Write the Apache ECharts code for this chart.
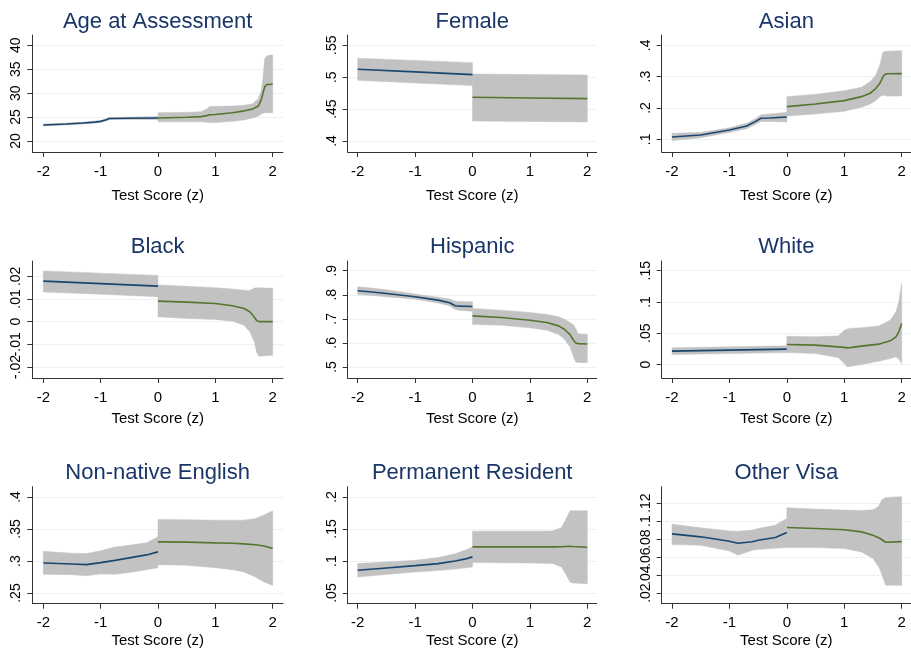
<!DOCTYPE html>
<html><head><meta charset="utf-8">
<script src="https://cdn.jsdelivr.net/npm/echarts@6/dist/echarts.min.js"></script>
<style>html,body{margin:0;padding:0;background:#fff}#c{width:911px;height:648px}</style>
</head><body><div id="c"></div>
<script>
// ---------- DATA ----------
const titles = ['Age at Assessment','Female','Asian','Black','Hispanic','White','Non-native English','Permanent Resident','Other Visa'];
const xTicks = [-2, -1, 0, 1, 2];
const xAxisTitle = 'Test Score (z)';

const yTicksAge = [20, 25, 30, 35, 40];
const yTicksFemale = [0.4, 0.45, 0.5, 0.55];
const yTicksAsian = [0.1, 0.2, 0.3, 0.4];
const yTicksBlack = [-0.02, -0.01, 0, 0.01, 0.02];
const yTicksHispanic = [0.5, 0.6, 0.7, 0.8, 0.9];
const yTicksWhite = [0, 0.05, 0.1, 0.15];
const yTicksNonNative = [0.25, 0.3, 0.35, 0.4];
const yTicksPerm = [0.05, 0.1, 0.15, 0.2];
const yTicksOther = [0.02, 0.04, 0.06, 0.08, 0.1, 0.12];

// rows: [x, estimate, lower CI, upper CI]; Left = below cutoff (blue), Right = above (green)
const ageLeft = [[-2,23.35,23.15,23.55],[-1.6,23.55,23.35,23.75],[-1.3,23.75,23.55,23.95],[-1.1,23.95,23.75,24.15],[-1.0,24.1,23.9,24.3],[-0.9,24.45,24.25,24.65],[-0.85,24.7,24.5,24.9],[-0.5,24.75,24.5,25.0],[0,24.8,24.5,25.1]];
const ageRight = [[0,24.8,24.0,25.9],[0.5,24.95,24.0,26.0],[0.75,25.1,24.0,26.1],[0.85,25.3,23.9,26.7],[0.9,25.5,23.8,27.2],[1.0,25.55,23.85,27.25],[1.3,25.9,24.1,27.3],[1.5,26.3,24.4,27.45],[1.65,26.7,24.8,27.8],[1.75,27.3,25.2,28.9],[1.8,28.6,25.6,30.5],[1.83,30.0,25.8,33.0],[1.86,31.3,25.9,37.2],[1.9,31.8,25.9,37.8],[2.0,31.85,25.9,38.0]];

const femaleLeft = [[-2,0.5124,0.4951,0.5296],[-1,0.5083,0.4910,0.5262],[0,0.504,0.4868,0.5228]];
const femaleRight = [[0,0.4685,0.4314,0.505],[1,0.4675,0.4306,0.5042],[2,0.4664,0.4298,0.5035]];

const asianLeft = [[-2,0.1075,0.096,0.119],[-1.5,0.1138,0.105,0.122],[-1,0.1298,0.122,0.137],[-0.7,0.1426,0.134,0.151],[-0.55,0.1564,0.147,0.166],[-0.45,0.167,0.157,0.178],[-0.3,0.168,0.157,0.181],[0,0.171,0.155,0.186]];
const asianRight = [[0,0.2043,0.1745,0.2362],[0.5,0.2128,0.181,0.2436],[1,0.2234,0.1894,0.2553],[1.3,0.2362,0.2021,0.266],[1.45,0.2468,0.2128,0.284],[1.55,0.2628,0.2234,0.305],[1.62,0.2787,0.2362,0.337],[1.67,0.298,0.2405,0.3766],[1.7,0.3065,0.2395,0.380],[1.75,0.309,0.238,0.381],[2,0.3096,0.238,0.383]];

const blackLeft = [[-2,0.0179,0.0131,0.0224],[-1,0.0168,0.0121,0.0214],[0,0.0157,0.011,0.0204]];
const blackRight = [[0,0.00908,0.00214,0.0162],[0.5,0.00863,0.0014,0.0156],[1,0.0080,0.00096,0.015],[1.3,0.0070,0.0002,0.0144],[1.5,0.00583,-0.00155,0.0139],[1.6,0.00435,-0.0045,0.0137],[1.65,0.0030,-0.0072,0.0144],[1.68,0.00214,-0.0089,0.0148],[1.72,0.0005,-0.0135,0.015],[1.76,0,-0.0153,0.015],[2,0,-0.0148,0.0147]];

const hispanicLeft = [[-2,0.8167,0.8014,0.8333],[-1.8,0.8125,0.798,0.829],[-1.5,0.8056,0.792,0.821],[-1,0.7917,0.7819,0.8028],[-0.6,0.7778,0.766,0.790],[-0.4,0.7667,0.754,0.782],[-0.3,0.7542,0.7389,0.7736],[-0.2,0.7528,0.735,0.772],[0,0.7514,0.7319,0.7708]];
const hispanicRight = [[0,0.7125,0.6764,0.7431],[0.5,0.7056,0.6736,0.7361],[1,0.6944,0.6625,0.7264],[1.3,0.6847,0.6528,0.7181],[1.5,0.6708,0.6347,0.7083],[1.6,0.6569,0.6153,0.6986],[1.7,0.6347,0.5833,0.6847],[1.76,0.6111,0.5417,0.675],[1.8,0.600,0.5208,0.660],[1.84,0.597,0.519,0.638],[2,0.5958,0.518,0.636]];

const whiteLeft = [[-2,0.0214,0.016,0.0267],[-1,0.023,0.0176,0.0283],[0,0.0246,0.0192,0.0299]];
const whiteRight = [[0,0.032,0.0192,0.0454],[0.5,0.031,0.0176,0.0443],[0.9,0.0283,0.0107,0.0459],[1.0,0.0275,0.0016,0.055],[1.05,0.0267,-0.0037,0.0567],[1.1,0.027,-0.003,0.0577],[1.3,0.0294,0,0.059],[1.6,0.0326,0.0053,0.0615],[1.8,0.0379,0.0096,0.071],[1.9,0.0443,0.0123,0.0843],[1.95,0.0523,0.009,0.1004],[2,0.0657,0.0016,0.1297]];

const nonNativeLeft = [[-2,0.297,0.2793,0.3153],[-1.5,0.2955,0.2788,0.3122],[-1.25,0.2944,0.2772,0.3117],[-1,0.2976,0.2798,0.3159],[-0.75,0.301,0.2793,0.3221],[-0.5,0.305,0.282,0.3247],[-0.2,0.3096,0.2865,0.3284],[0,0.3143,0.2897,0.3378]];
const nonNativeRight = [[0,0.33,0.2944,0.365],[0.5,0.3295,0.2934,0.3645],[1,0.3284,0.2897,0.3639],[1.3,0.3278,0.2866,0.3639],[1.5,0.3268,0.2829,0.3639],[1.7,0.3255,0.2751,0.3666],[1.85,0.3235,0.2673,0.3718],[2,0.3195,0.262,0.3786]];

const permLeft = [[-2,0.0856,0.0751,0.096],[-1.5,0.0892,0.079,0.0986],[-1,0.0929,0.0829,0.1012],[-0.6,0.096,0.0851,0.1055],[-0.3,0.1002,0.0875,0.1115],[-0.1,0.1038,0.0895,0.118],[0,0.1065,0.0908,0.1221]];
const permRight = [[0,0.1221,0.0976,0.1467],[1,0.1221,0.0971,0.1467],[1.4,0.1222,0.096,0.147],[1.55,0.1224,0.0908,0.1524],[1.62,0.1228,0.0803,0.164],[1.7,0.1232,0.0673,0.1786],[1.75,0.1228,0.0657,0.1786],[2,0.1216,0.0646,0.1786]];

const otherLeft = [[-2,0.0858,0.0739,0.0966],[-1.5,0.0825,0.0732,0.0925],[-1,0.0776,0.0668,0.0891],[-0.85,0.0754,0.062,0.0888],[-0.6,0.077,0.0676,0.090],[-0.5,0.0787,0.0685,0.0917],[-0.2,0.0817,0.0699,0.0955],[0,0.0873,0.0706,0.1029]];
const otherRight = [[0,0.0929,0.0706,0.1148],[0.5,0.0917,0.0706,0.1133],[1,0.0903,0.0694,0.1122],[1.3,0.088,0.0657,0.1118],[1.5,0.0843,0.0583,0.1125],[1.6,0.0815,0.049,0.1165],[1.65,0.0795,0.0415,0.1233],[1.72,0.0765,0.0286,0.1263],[2,0.0772,0.0286,0.1271]];

// y-axis extents (value range of each plot region)
const yExtents = [[17.70,42.15],[0.3828,0.5661],[0.0595,0.4329],[-0.02487,0.02677],[0.4542,0.9404],[-0.0215,0.1655],[0.2334,0.4161],[0.0334,0.2161],[0.0082,0.1382]];

// ---------- LAYOUT / STYLE ----------
const FONT = 'Liberation Sans, Arial, Helvetica, sans-serif';
const colLeft = [32.3, 347.7, 661.7];
const colWidth = [250.7, 249, 249.3];
const colXRange = [[-2.192, 2.18], [-2.174, 2.164], [-2.179, 2.162]];
const rowTop = [35, 261, 486.7];
const rowHeight = 117;
const titleTop = [11, 235.5, 461.5];
const nameGaps = [36, 33, 30];
const BLUE = '#1a476f', GREEN = '#55752f', BAND = '#c2c2c2', GRID = '#eaf2f3', AXIS = '#333333';

const panels = [
  [ageLeft, ageRight, yTicksAge], [femaleLeft, femaleRight, yTicksFemale], [asianLeft, asianRight, yTicksAsian],
  [blackLeft, blackRight, yTicksBlack], [hispanicLeft, hispanicRight, yTicksHispanic], [whiteLeft, whiteRight, yTicksWhite],
  [nonNativeLeft, nonNativeRight, yTicksNonNative], [permLeft, permRight, yTicksPerm], [otherLeft, otherRight, yTicksOther]
];

function stataFmt(v) {
  let s = String(+Number(v).toFixed(6));
  return s.replace(/^0\./, '.').replace(/^-0\./, '-.');
}

function bandSeries(i, D) {
  return {
    type: 'custom', xAxisIndex: i, yAxisIndex: i, z: 2, silent: true,
    data: D.map(d => [d[0], d[1]]),
    renderItem: function (params, api) {
      if (params.dataIndex !== 0) return null;
      const upper = D.map(d => api.coord([d[0], d[3]]));
      const lower = D.slice().reverse().map(d => api.coord([d[0], d[2]]));
      return {type: 'polygon', shape: {points: upper.concat(lower)}, style: {fill: BAND, stroke: BAND, lineWidth: 0.5}};
    }
  };
}

const yLabelBase = {rotate: 90, margin: 9, fontSize: 14, color: '#000', fontFamily: FONT, formatter: stataFmt,
  hideOverlap: false, showMinLabel: true, showMaxLabel: true};

const grid = [], xAxis = [], yAxis = [], yAxisLabels2 = [], series = [], title = [];
panels.forEach((p, i) => {
  const r = Math.floor(i / 3), c = i % 3;
  const [L, R, ticks] = p;
  const evenTicks = ticks.filter((t, k) => k % 2 === 0);
  const oddTicks = ticks.filter((t, k) => k % 2 === 1);
  grid.push({left: colLeft[c], top: rowTop[r], width: colWidth[c], height: rowHeight, containLabel: false, outerBoundsMode: 'none'});
  title.push({text: titles[i], left: colLeft[c] + colWidth[c] / 2, top: titleTop[r], textAlign: 'center', padding: 0,
    textStyle: {fontSize: 22, fontWeight: 'normal', color: '#1a3668', fontFamily: FONT}});
  xAxis.push({gridIndex: i, type: 'value', min: colXRange[c][0], max: colXRange[c][1],
    axisLine: {show: true, onZero: false, lineStyle: {color: AXIS, width: 1}},
    axisTick: {show: true, customValues: xTicks, length: 5, lineStyle: {color: AXIS}},
    axisLabel: {customValues: xTicks, margin: 12, fontSize: 15, color: '#000', fontFamily: FONT, formatter: stataFmt,
      showMinLabel: true, showMaxLabel: true},
    splitLine: {show: false},
    name: xAxisTitle, nameLocation: 'middle', nameGap: nameGaps[r],
    nameTextStyle: {fontSize: 15, color: '#000', fontFamily: FONT}});
  // main y axis: line, ticks, gridlines, labels at even-indexed ticks
  yAxis.push({gridIndex: i, type: 'value', position: 'left', min: yExtents[i][0], max: yExtents[i][1],
    axisLine: {show: true, onZero: false, lineStyle: {color: AXIS, width: 1}},
    axisTick: {show: true, customValues: ticks, length: 5, lineStyle: {color: AXIS}},
    axisLabel: Object.assign({customValues: evenTicks}, yLabelBase),
    splitLine: {show: true, lineStyle: {color: GRID, width: 1}}});
  // companion y axis (same scale) carrying the odd-indexed labels, so crowded labels may overlap like the original
  yAxisLabels2.push({gridIndex: i, type: 'value', position: 'left', offset: 0, min: yExtents[i][0], max: yExtents[i][1],
    axisLine: {show: false, onZero: false},
    axisTick: {show: false, customValues: oddTicks.length ? oddTicks : evenTicks},
    axisLabel: Object.assign({customValues: oddTicks.length ? oddTicks : evenTicks, show: oddTicks.length > 0}, yLabelBase),
    splitLine: {show: false}});
  series.push(bandSeries(i, L));
  series.push(bandSeries(i, R));
  series.push({type: 'line', xAxisIndex: i, yAxisIndex: i, symbol: 'none', silent: true, z: 3,
    lineStyle: {color: BLUE, width: 1.6}, data: L.map(d => [d[0], d[1]])});
  series.push({type: 'line', xAxisIndex: i, yAxisIndex: i, symbol: 'none', silent: true, z: 3,
    lineStyle: {color: GREEN, width: 1.6}, data: R.map(d => [d[0], d[1]])});
});

const chart = echarts.init(document.getElementById('c'), null, {renderer: 'canvas'});
chart.setOption({backgroundColor: '#fff', animation: false, title, grid, xAxis,
  yAxis: yAxis.concat(yAxisLabels2), series, tooltip: {show: false}});
</script></body></html>
